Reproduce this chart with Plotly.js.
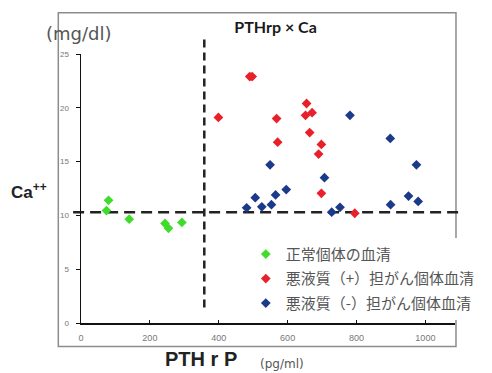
<!DOCTYPE html>
<html>
<head>
<meta charset="utf-8">
<script src="https://cdn.plot.ly/plotly-3.0.1.min.js"></script>
<style>html,body{margin:0;padding:0;background:#fff;}#chart{width:492px;height:373px;}</style>
</head>
<body>
<div id="chart"></div>
<script>
// ---- data ----
const seriesNames = ['正常個体の血清', '悪液質（+）担がん個体血清', '悪液質（-）担がん個体血清'];
const normalX = [80, 74, 140, 244, 254, 293];
const normalY = [11.4, 10.45, 9.65, 9.25, 8.8, 9.35];
const cachexiaPosX = [490, 497, 399, 568, 571, 655, 652, 671, 664, 698, 690, 698, 795];
const cachexiaPosY = [22.9, 22.9, 19.1, 19.0, 16.8, 20.4, 19.3, 19.55, 17.7, 16.6, 15.7, 12.05, 10.2];
const cachexiaNegX = [481, 506, 525, 549, 553, 565, 596, 707, 728, 752, 781, 898, 899, 951, 974, 979];
const cachexiaNegY = [10.7, 11.65, 10.8, 14.7, 11.0, 11.9, 12.4, 13.5, 10.3, 10.75, 19.3, 17.15, 11.0, 11.8, 14.7, 11.3];
const xTickVals = [0, 200, 400, 600, 800, 1000];
const yTickVals = [0, 5, 10, 15, 20, 25];
const pthThreshold = 358;
const caThreshold = 10.3;
const xRange = [0, 1086];
const yRange = [0, 25];

const colors = ['#3fdc2c', '#e8202a', '#1c3a8a'];
const mk = (c) => ({symbol: 'diamond', size: 7.5, color: c, line: {width: 0}});

const traces = [
  {x: normalX, y: normalY, name: seriesNames[0], legendgroup: 'a', type: 'scatter', mode: 'markers', marker: mk(colors[0])},
  {x: cachexiaPosX, y: cachexiaPosY, name: seriesNames[1], legendgroup: 'b', type: 'scatter', mode: 'markers', marker: mk(colors[1])},
  {x: cachexiaNegX, y: cachexiaNegY, name: seriesNames[2], legendgroup: 'c', type: 'scatter', mode: 'markers', marker: mk(colors[2])}
];

const L = 81, R = 460, T = 53.5, B = 323.5;
const W = 492, H = 373;
const px = (p) => (p - L) / (R - L);
const py = (p) => (B - p) / (B - T);

const layout = {
  width: W, height: H,
  margin: {l: L, r: W - R, t: T, b: H - B, pad: 0},
  paper_bgcolor: '#fff', plot_bgcolor: 'rgba(0,0,0,0)',
  showlegend: true,
  title: {text: '<b>PTHrp × Ca</b>', font: {family: 'Lato, sans-serif', size: 16, color: '#1a1a1a'},
          xref: 'container', yref: 'container', x: 275.5 / W, y: 1 - 27 / H, xanchor: 'center', yanchor: 'middle'},
  xaxis: {range: xRange, tickvals: xTickVals, showline: true, linecolor: '#111', linewidth: 1.5,
          ticks: 'inside', ticklen: 3, tickcolor: '#111', tickwidth: 1,
          tickfont: {family: 'Liberation Sans, Arial, sans-serif', size: 9, color: '#777'},
          ticklabelstandoff: 6, showgrid: false, zeroline: false, fixedrange: true},
  yaxis: {range: yRange, tickvals: yTickVals, showline: true, linecolor: '#111', linewidth: 1.5,
          ticks: 'outside', ticklen: 4, tickcolor: '#111', tickwidth: 1,
          tickfont: {family: 'Liberation Sans, Arial, sans-serif', size: 8, color: '#777'},
          ticklabelstandoff: 5, showgrid: false, zeroline: false, fixedrange: true},
  legend: {x: px(248), y: py(238), xanchor: 'left', yanchor: 'top', bgcolor: '#fff', borderwidth: 0,
           font: {family: 'Noto Sans CJK JP, sans-serif', size: 15, color: '#555'},
           tracegroupgap: 2, itemwidth: 30},
  shapes: [
    {type: 'rect', xref: 'paper', yref: 'paper', x0: px(58), x1: px(461), y0: py(347), y1: py(12),
     line: {color: '#8c8c8c', width: 1.5}, fillcolor: 'rgba(0,0,0,0)', layer: 'below'},
    {type: 'line', xref: 'x', yref: 'paper', x0: pthThreshold, x1: pthThreshold, y0: py(308), y1: py(38),
     line: {color: '#222', width: 2.5, dash: '8px,5px'}, layer: 'below'},
    {type: 'line', xref: 'paper', yref: 'y', x0: px(73), x1: px(469), y0: caThreshold, y1: caThreshold,
     line: {color: '#222', width: 2.5, dash: '11px,6px'}, layer: 'below'}
  ],
  annotations: [
    {text: '(mg/dl)', xref: 'paper', yref: 'paper', x: px(43), y: py(33), xanchor: 'left', yanchor: 'middle',
     showarrow: false, font: {family: 'DejaVu Sans, sans-serif', size: 18, color: '#555'}},
    {text: '<b>Ca<sup>++</sup></b>', xref: 'paper', yref: 'paper', x: px(8), y: py(191), xanchor: 'left', yanchor: 'middle',
     showarrow: false, font: {family: 'Liberation Sans, Arial, sans-serif', size: 17, color: '#222'}},
    {text: '<b>PTH r P</b>', xref: 'paper', yref: 'paper', x: px(203), y: py(360), xanchor: 'center', yanchor: 'middle',
     showarrow: false, font: {family: 'Liberation Sans, Arial, sans-serif', size: 20, color: '#222'}},
    {text: '(pg/ml)', xref: 'paper', yref: 'paper', x: px(285), y: py(365), xanchor: 'center', yanchor: 'middle',
     showarrow: false, font: {family: 'DejaVu Sans, sans-serif', size: 12, color: '#555'}}
  ]
};

Plotly.newPlot('chart', traces, layout, {displayModeBar: false, staticPlot: true});
</script>
</body>
</html>
